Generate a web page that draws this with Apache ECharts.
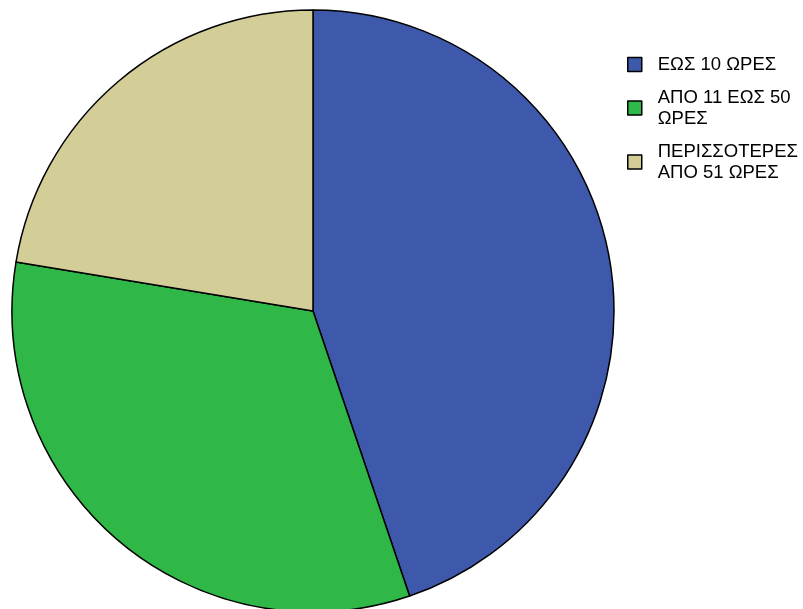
<!DOCTYPE html>
<html>
<head>
<meta charset="utf-8">
<script src="https://cdn.jsdelivr.net/npm/echarts@6/dist/echarts.min.js"></script>
<style>
  html, body { margin: 0; padding: 0; background: #ffffff; }
  #chart { width: 803px; height: 609px; }
</style>
</head>
<body>
<div id="chart"></div>
<script>
// Share of respondents by hours band
const categories = ['ΕΩΣ 10 ΩΡΕΣ', 'ΑΠΟ 11 ΕΩΣ 50 ΩΡΕΣ', 'ΠΕΡΙΣΣΟΤΕΡΕΣ ΑΠΟ 51 ΩΡΕΣ'];
const legendLabels = ['ΕΩΣ 10 ΩΡΕΣ', 'ΑΠΟ 11 ΕΩΣ 50\nΩΡΕΣ', 'ΠΕΡΙΣΣΟΤΕΡΕΣ\nΑΠΟ 51 ΩΡΕΣ'];
const values = [44.8, 32.8, 22.4];
const colors = ['#3e58ac', '#2fb847', '#d3cd98'];

const chart = echarts.init(document.getElementById('chart'), null, { renderer: 'canvas' });

chart.setOption({
  animation: false,
  backgroundColor: '#ffffff',
  legend: {
    orient: 'vertical',
    left: 622,
    top: 49,
    itemWidth: 14,
    itemHeight: 14,
    itemGap: 12,
    icon: 'rect',
    itemStyle: { borderColor: '#000000', borderWidth: 1.5 },
    textStyle: {
      fontFamily: 'Liberation Sans, Arial, sans-serif',
      fontSize: 18.5,
      lineHeight: 21,
      color: '#000000',
      padding: [0, 0, 0, 11]
    },
    formatter: function (name) {
      return legendLabels[categories.indexOf(name)];
    },
    data: categories
  },
  series: [{
    type: 'pie',
    center: [313, 311],
    radius: 301,
    startAngle: 90,
    clockwise: true,
    label: { show: false },
    labelLine: { show: false },
    emphasis: { disabled: true },
    itemStyle: { borderColor: '#000000', borderWidth: 1.5 },
    data: categories.map((c, i) => ({
      name: c,
      value: values[i],
      itemStyle: { color: colors[i] }
    }))
  }]
});
</script>
</body>
</html>
